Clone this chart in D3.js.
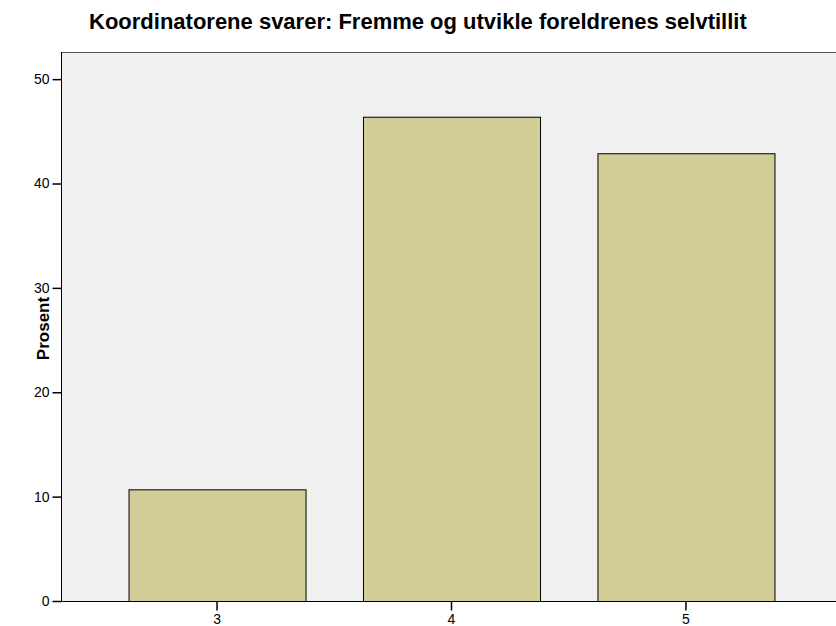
<!DOCTYPE html>
<html>
<head>
<meta charset="utf-8">
<script src="https://cdn.jsdelivr.net/npm/d3@7"></script>
<style>
  body { margin: 0; background: #fff; }
  text { font-family: Arial, "Liberation Sans", sans-serif; }
</style>
</head>
<body>
<svg id="chart" width="836" height="626"></svg>
<script>
const categories = ["3", "4", "5"];
const percents = [10.7, 46.4, 42.9];
const yTicks = [0, 10, 20, 30, 40, 50];
const title = "Koordinatorene svarer: Fremme og utvikle foreldrenes selvtillit";

const svg = d3.select("#chart");
const plotLeft = 61, plotTop = 52, plotBottom = 601;
const font = "Arial, 'Liberation Sans', sans-serif";

const y = d3.scaleLinear().domain([0, 52.6]).range([plotBottom, plotTop]);
const x = d3.scaleBand()
    .domain(categories)
    .range([plotLeft, 842])
    .paddingInner(0.245)
    .paddingOuter(0.288);

// plot background
svg.append("rect")
    .attr("x", plotLeft).attr("y", plotTop)
    .attr("width", 836 - plotLeft).attr("height", plotBottom - plotTop)
    .attr("fill", "#f0f0f0");
svg.append("line")
    .attr("x1", plotLeft).attr("x2", 836)
    .attr("y1", plotTop + 0.5).attr("y2", plotTop + 0.5)
    .attr("stroke", "#555").attr("stroke-width", 1);

// bars
svg.selectAll(".bar")
    .data(percents)
    .enter().append("rect")
    .attr("class", "bar")
    .attr("x", (d, i) => x(categories[i]) + 0.5)
    .attr("y", d => y(d) + 0.5)
    .attr("width", x.bandwidth())
    .attr("height", d => plotBottom - y(d))
    .attr("fill", "#d2cc96")
    .attr("stroke", "#000")
    .attr("stroke-width", 1);

// y axis
const yAxis = svg.append("g")
    .attr("transform", `translate(${plotLeft + 0.5},0)`)
    .call(d3.axisLeft(y).tickValues(yTicks).tickSize(9).tickSizeOuter(0).tickPadding(3));
yAxis.select(".domain").attr("stroke", "#000").attr("d", `M0,${plotTop}V${plotBottom}`);
yAxis.selectAll("line").attr("stroke-width", 1.5);
yAxis.selectAll("text").attr("font-size", 14).attr("fill", "#000").style("font-family", font);

// x axis
const xAxis = svg.append("g")
    .attr("transform", `translate(0,${plotBottom + 0.5})`)
    .call(d3.axisBottom(x).tickSize(9).tickSizeOuter(0).tickPadding(4));
xAxis.select(".domain").attr("stroke", "#000").attr("d", `M${plotLeft},0H836`);
xAxis.selectAll("line").attr("stroke-width", 1.5);
xAxis.selectAll("text").attr("font-size", 14).attr("fill", "#000").style("font-family", font);

// y label
svg.append("text")
    .attr("transform", `translate(43,${(plotTop + plotBottom) / 2 + 2}) rotate(-90)`)
    .attr("text-anchor", "middle")
    .attr("dominant-baseline", "central")
    .attr("font-size", 17)
    .attr("font-weight", "bold")
    .text("Prosent");

// title
svg.append("text")
    .attr("x", 89).attr("y", 29)
    .attr("font-size", 22)
    .attr("font-weight", "bold")
    .text(title);
</script>
</body>
</html>
